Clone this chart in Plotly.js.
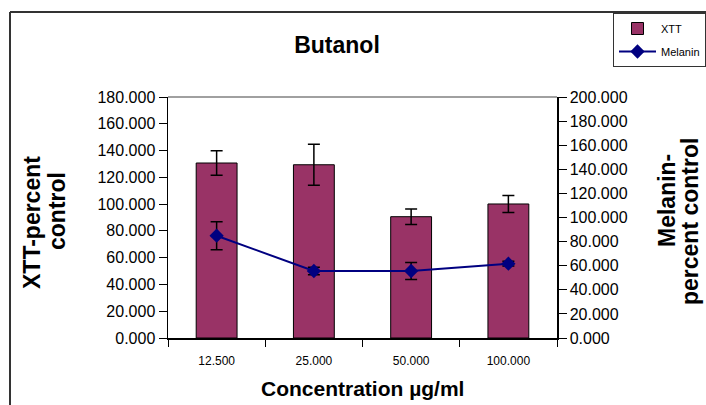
<!DOCTYPE html>
<html>
<head>
<meta charset="utf-8">
<script src="https://cdn.plot.ly/plotly-3.0.1.min.js"></script>
<style>
html,body{margin:0;padding:0;background:#fff;overflow:hidden;}
#chart{width:706px;height:405px;}
</style>
</head>
<body>
<div id="chart"></div>
<script>
// Data
const categories = ['12.500', '25.000', '50.000', '100.000'];
const xttValues = [130.7, 129.4, 90.6, 100.1];
const xttErrors = [9.1, 15.4, 5.8, 6.3];
const melaninValues = [84.9, 55.6, 55.6, 61.7];
const melaninErrors = [11.6, 3.2, 7.0, 2.0];
const leftTicks = [0, 20, 40, 60, 80, 100, 120, 140, 160, 180];
const rightTicks = [0, 20, 40, 60, 80, 100, 120, 140, 160, 180, 200];

const FONT = 'Arial, "Liberation Sans", sans-serif';

// pixel helpers for placing text relative to the plot area
const PL = 168, PR = 557, PT = 97, PB = 338;
const px = v => (v - PL) / (PR - PL);
const py = v => (PB - v) / (PB - PT);

const traces = [
  {
    type: 'bar',
    name: 'XTT',
    legendgroup: 'a',
    x: categories,
    y: xttValues,
    marker: {color: '#993366', line: {color: '#000000', width: 1}},
    error_y: {type: 'data', array: xttErrors, visible: true, color: '#000000', thickness: 1.5, width: 6}
  },
  {
    type: 'scatter',
    mode: 'lines+markers',
    name: 'Melanin',
    legendgroup: 'b',
    x: categories,
    y: melaninValues,
    yaxis: 'y2',
    line: {color: '#000080', width: 2},
    marker: {symbol: 'diamond', size: 11, color: '#000080'},
    error_y: {type: 'data', array: melaninErrors, visible: true, color: '#000000', thickness: 1.5, width: 6}
  }
];

const titleFont = {family: FONT, size: 23, color: '#000000'};

const layout = {
  width: 706,
  height: 405,
  margin: {l: PL, r: 706 - PR, t: PT, b: 405 - PB, pad: 0, autoexpand: false},
  paper_bgcolor: '#ffffff',
  plot_bgcolor: '#ffffff',
  font: {family: FONT, color: '#000000'},
  bargap: 0.58,
  showlegend: true,
  title: {
    text: '<b>Butanol</b>',
    font: {family: FONT, size: 23, color: '#000000'},
    x: 337 / 706, xref: 'container', xanchor: 'center',
    y: 1 - 45 / 405, yref: 'container', yanchor: 'middle'
  },
  xaxis: {
    type: 'category',
    showline: true, linecolor: '#000000', linewidth: 1.5,
    ticks: 'outside', ticklen: 7, tickcolor: '#000000', tickwidth: 1,
    tickson: 'boundaries',
    ticklabelstandoff: 11,
    showgrid: false, zeroline: false,
    tickfont: {family: FONT, size: 12, color: '#000000'}
  },
  yaxis: {
    range: [0, 180],
    tickvals: leftTicks,
    tickformat: '.3f',
    showline: true, linecolor: '#000000', linewidth: 1.5,
    ticks: 'outside', ticklen: 8, tickcolor: '#000000', tickwidth: 1,
    showgrid: false, zeroline: false,
    tickfont: {family: FONT, size: 16, color: '#000000'}
  },
  yaxis2: {
    range: [0, 200],
    tickvals: rightTicks,
    tickformat: '.3f',
    overlaying: 'y', side: 'right',
    showline: true, linecolor: '#000000', linewidth: 1.5,
    ticks: 'outside', ticklen: 8, tickcolor: '#000000', tickwidth: 1,
    showgrid: false, zeroline: false,
    tickfont: {family: FONT, size: 16, color: '#000000'}
  },
  legend: {
    x: px(613), xanchor: 'left',
    y: py(13), yanchor: 'top',
    bgcolor: '#ffffff', bordercolor: '#333333', borderwidth: 1,
    font: {family: FONT, size: 11, color: '#000000'},
    itemwidth: 37,
    traceorder: 'grouped',
    tracegroupgap: 4
  },
  annotations: [
    {text: '<b>XTT-percent</b>', xref: 'paper', yref: 'paper', x: px(32), y: py(223),
     xanchor: 'center', yanchor: 'middle', textangle: -90, showarrow: false, font: titleFont},
    {text: '<b>control</b>', xref: 'paper', yref: 'paper', x: px(57), y: py(211),
     xanchor: 'center', yanchor: 'middle', textangle: -90, showarrow: false, font: titleFont},
    {text: '<b>Melanin-</b>', xref: 'paper', yref: 'paper', x: px(667), y: py(201),
     xanchor: 'center', yanchor: 'middle', textangle: -90, showarrow: false, font: titleFont},
    {text: '<b>percent control</b>', xref: 'paper', yref: 'paper', x: px(690), y: py(222),
     xanchor: 'center', yanchor: 'middle', textangle: -90, showarrow: false, font: titleFont},
    {text: '<b>Concentration µg/ml</b>', xref: 'paper', yref: 'paper', x: 0.5, y: py(388),
     xanchor: 'center', yanchor: 'middle', showarrow: false,
     font: {family: FONT, size: 21, color: '#000000'}}
  ],
  shapes: [
    // gray top border of the plot area
    {type: 'line', xref: 'paper', yref: 'paper', x0: 0, x1: 1, y0: 1, y1: 1,
     line: {color: '#808080', width: 1.5}},
    // outer chart frame (left and top edges visible)
    {type: 'line', xref: 'paper', yref: 'paper',
     x0: px(10), x1: px(10), y0: py(12), y1: -1,
     line: {color: '#333333', width: 2}},
    {type: 'line', xref: 'paper', yref: 'paper',
     x0: px(10), x1: 2, y0: py(12), y1: py(12),
     line: {color: '#333333', width: 2}}
  ]
};

Plotly.newPlot('chart', traces, layout, {displayModeBar: false, staticPlot: true});
</script>
</body>
</html>
